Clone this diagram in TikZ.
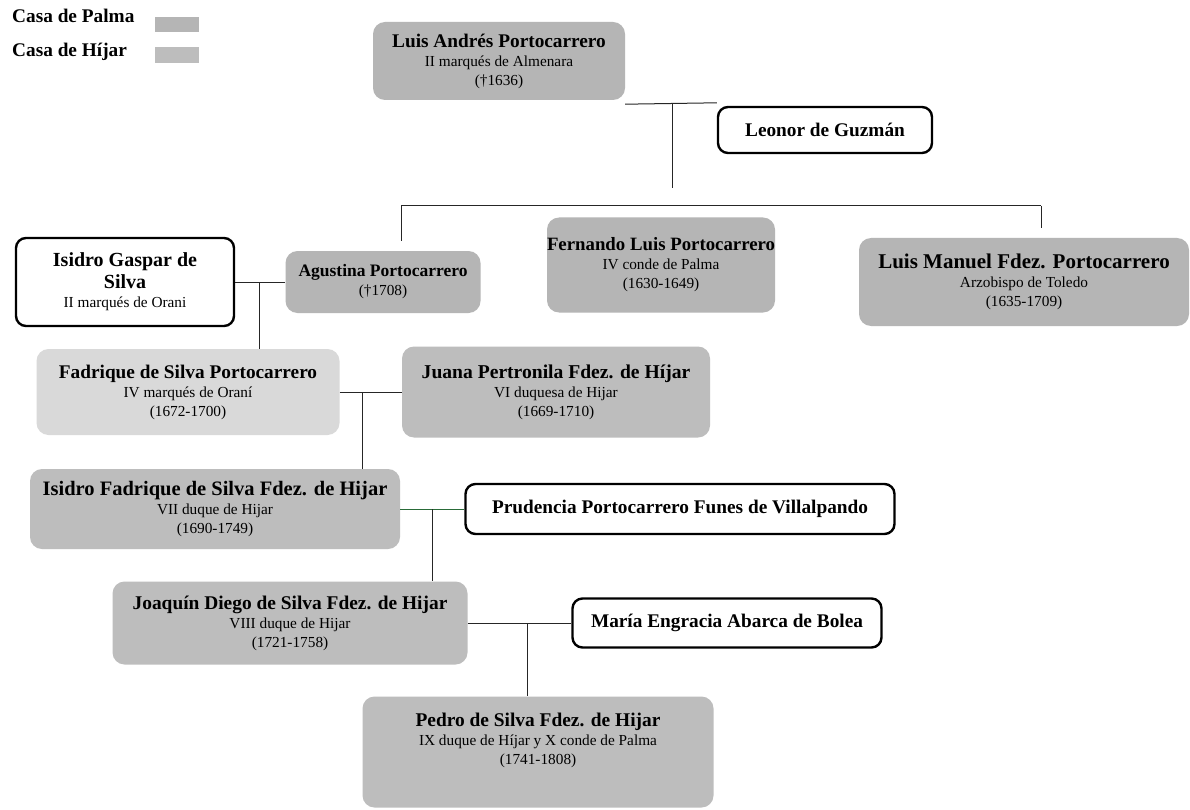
\documentclass[tikz,border=0pt]{standalone}
\usepackage{fontspec}
\setmainfont{Liberation Serif}
\definecolor{palma}{gray}{0.71}
\definecolor{hijar}{gray}{0.74}
\definecolor{orani}{gray}{0.85}
\definecolor{verdelinea}{rgb}{0.16,0.42,0.22}
\newcommand{\titular}[2][19.3]{{\fontsize{#1}{19}\selectfont\bfseries #2}}

\begin{document}
\begin{tikzpicture}[x=1pt,y=-1pt,
	casa/.style={rounded corners=12pt, fill=palma, align=center, inner sep=0pt, font=\fontsize{15.3}{19}\selectfont},
	esposa/.style={casa, fill=white, draw=black, line width=2.4pt, rounded corners=10pt, font=\fontsize{19.3}{19}\selectfont\bfseries},
	linea/.style={line width=1pt, black!85}]
	\useasboundingbox[fill=white] (0,0) rectangle (1190,810);

	\node[anchor=base west, inner sep=0pt, font=\fontsize{19.3}{19}\selectfont\bfseries] (leyendaPalma) at (12,23) {Casa de Palma};
	\node[anchor=base west, inner sep=0pt, font=\fontsize{19.3}{19}\selectfont\bfseries] (leyendaHijar) at (12,57) {Casa de Híjar};
	\node[fill=palma, minimum width=44pt, minimum height=15pt, inner sep=0pt] (muestraPalma) at (177,24.5) {};
	\node[fill=hijar, minimum width=44pt, minimum height=16pt, inner sep=0pt] (muestraHijar) at (177,55) {};

	\node[casa, minimum width=252pt, minimum height=78pt] (luisandres) at (499,61) {\titular{Luis Andrés Portocarrero}\\II marqués de Almenara\\(†1636)};
	\node[esposa, minimum width=214pt, minimum height=46pt] (leonor) at (825,130) {Leonor de Guzmán};

	\node[esposa, minimum width=218pt, minimum height=88pt, font=\fontsize{15.3}{19}\selectfont] (isidrogaspar) at (125,282) {\titular[20]{Isidro Gaspar de}\\[3pt]\titular[20]{Silva}\\II marqués de Orani};
	\node[casa, minimum width=195pt, minimum height=62pt] (agustina) at (383,282) {\titular[17.5]{Agustina Portocarrero}\\(†1708)};
	\node[casa, minimum width=222pt, minimum height=95pt] (fernando) at (661,265) {\titular[18.8]{Fernando Luis Portocarrero}\\IV conde de Palma\\(1630-1649)};
	\node[casa, minimum width=330pt, minimum height=88pt] (luismanuel) at (1024,282) {\titular[21]{Luis Manuel Fdez. Portocarrero}\\Arzobispo de Toledo\\(1635-1709)};

	\node[casa, fill=orani, minimum width=303pt, minimum height=86pt] (fadrique) at (188,392) {\titular{Fadrique de Silva Portocarrero}\\IV marqués de Oraní\\(1672-1700)};
	\node[casa, fill=hijar, minimum width=308pt, minimum height=91pt] (juana) at (556,392) {\titular[19.6]{Juana Pertronila Fdez. de Híjar}\\VI duquesa de Hijar\\(1669-1710)};

	\node[casa, fill=hijar, minimum width=370pt, minimum height=80pt] (isidrofadrique) at (215,509) {\titular[20.5]{Isidro Fadrique de Silva Fdez. de Hijar}\\VII duque de Hijar\\(1690-1749)};
	\node[esposa, minimum width=429pt, minimum height=50pt] (prudencia) at (680,509) {Prudencia Portocarrero Funes de Villalpando};

	\node[casa, fill=hijar, minimum width=355pt, minimum height=83pt] (joaquin) at (290,623) {\titular[19.4]{Joaquín Diego de Silva Fdez. de Hijar}\\VIII duque de Hijar\\(1721-1758)};
	\node[esposa, minimum width=309pt, minimum height=49pt] (maria) at (727,623) {María Engracia Abarca de Bolea};

	\node[casa, fill=hijar, minimum width=351pt, minimum height=111pt] (pedro) at (538,752) {\titular[19.4]{Pedro de Silva Fdez. de Hijar}\\IX duque de Híjar y X conde de Palma\\(1741-1808)\\[8pt]};

	\draw[linea] ([yshift=-4pt]luisandres.south east) -- ([yshift=3pt]leonor.north west);
	\coordinate (enlace1) at (672,104);
	\coordinate (enlace1fin) at (672,188);
	\draw[linea] (enlace1) -- (enlace1fin);
	\coordinate (barraIzq) at (401,206);
	\coordinate (barraDer) at (1041,206);
	\draw[linea] (barraIzq) -- (barraDer);
	\draw[linea] (barraIzq) -- ([yshift=10pt]agustina.north -| barraIzq);
	\draw[linea] (barraDer) -- ([yshift=10pt]luismanuel.north -| barraDer);

	\draw[linea] (isidrogaspar.east) -- (agustina.west);
	\coordinate (enlace2) at (259,282);
	\draw[linea] (enlace2) -- (enlace2 |- fadrique.north);

	\draw[linea] (fadrique.east) -- (juana.west);
	\coordinate (enlace3) at (362,392);
	\draw[linea] (enlace3) -- (enlace3 |- isidrofadrique.north);

	\draw[linea, color=verdelinea] (isidrofadrique.east) -- (prudencia.west);
	\coordinate (enlace4) at (432,509);
	\draw[linea] (enlace4) -- (enlace4 |- joaquin.north);

	\draw[linea] (joaquin.east) -- (maria.west);
	\coordinate (enlace5) at (527,623);
	\draw[linea] (enlace5) -- (enlace5 |- pedro.north);
\end{tikzpicture}
\end{document}
